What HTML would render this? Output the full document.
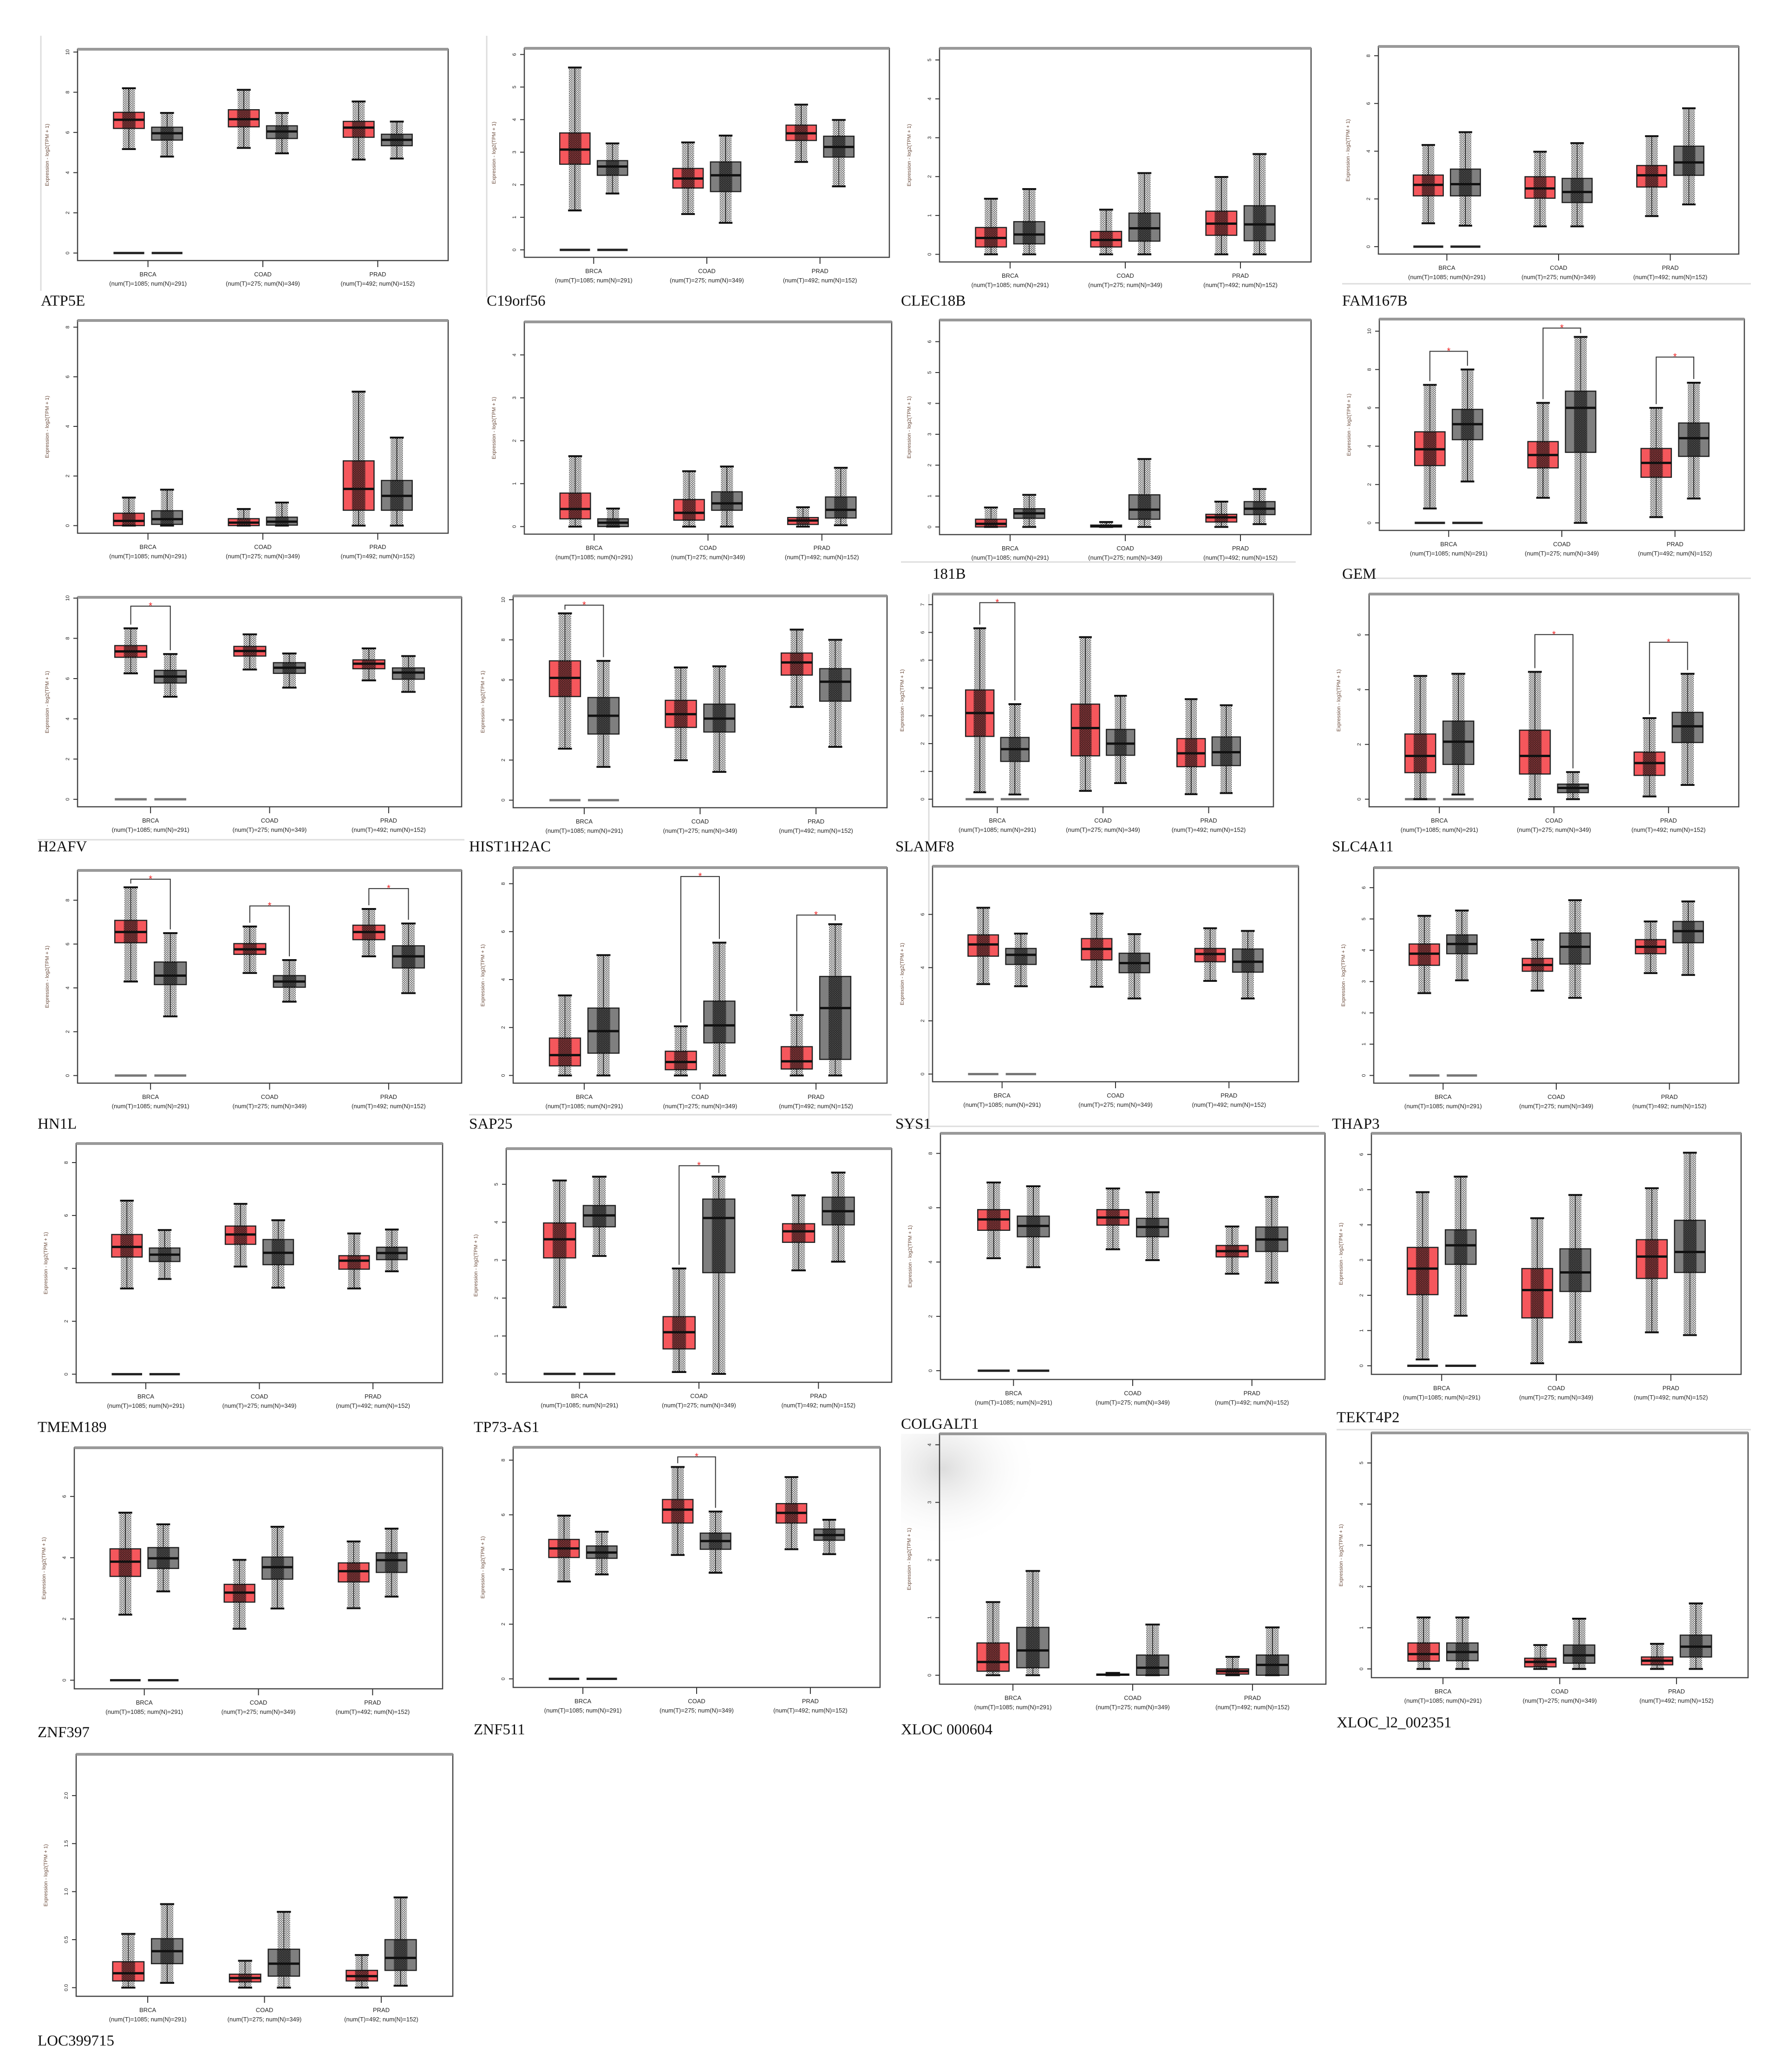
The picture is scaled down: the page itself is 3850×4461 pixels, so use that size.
<!DOCTYPE html>
<html><head><meta charset="utf-8">
<style>
html,body{margin:0;padding:0;background:#fff;}
svg{display:block;}
.gl{font-family:"Liberation Serif",serif;font-size:33px;fill:#111;}
.tk{font-family:"Liberation Sans",sans-serif;font-size:11px;fill:#222;}
.gx{font-family:"Liberation Sans",sans-serif;font-size:13px;fill:#222;}
.yt{font-family:"Liberation Sans",sans-serif;font-size:11px;fill:#6a4a3a;}
</style></head>
<body>
<svg id="fig" xmlns="http://www.w3.org/2000/svg" width="3850" height="4461" viewBox="0 0 3850 4461">
<defs>
<pattern id="dots" width="5" height="4" patternUnits="userSpaceOnUse"><circle cx="1.2" cy="1.2" r="1.2" fill="#111"/><circle cx="3.7" cy="3.2" r="1.2" fill="#111"/></pattern>
<radialGradient id="shade" cx="0.3" cy="0.3" r="0.7"><stop offset="0" stop-color="#ddd"/><stop offset="1" stop-color="#fff" stop-opacity="0"/></radialGradient>
</defs>
<rect x="0" y="0" width="3850" height="4461" fill="#fff"/>
</svg>
<script>
const genes=["ATP5E","C19orf56","CLEC18B","FAM167B","","","181B","GEM","H2AFV","HIST1H2AC","SLAMF8","SLC4A11","HN1L","SAP25","SYS1","THAP3","TMEM189","TP73-AS1","COLGALT1","TEKT4P2","ZNF397","ZNF511","XLOC 000604","XLOC_l2_002351","LOC399715"];
const groups=["BRCA","COAD","PRAD"];
const groupCounts=["(num(T)=1085; num(N)=291)","(num(T)=275; num(N)=349)","(num(T)=492; num(N)=152)"];
const yTopVals=[10.14,6.19,5.3,8.39,8.27,4.77,6.7,10.63,10.04,10.19,7.38,7.49,9.36,8.67,7.81,6.64,8.72,5.94,8.74,6.6,7.59,8.47,4.19,5.73,2.43];
const tickMax=[10,6,5,8,8,4,6,10,10,10,7,6,8,8,6,6,8,5,8,6,6,8,4,5,2];
const tickStep=[2,1,1,2,2,1,1,2,2,2,1,2,2,2,2,1,2,1,2,1,2,2,1,1,0.5];
// [q1, median, q3, whiskerLow, whiskerHigh]
const tumorStats=[
[[6.2,6.63,7.0,5.17,8.2],[6.28,6.66,7.13,5.23,8.12],[5.76,6.24,6.55,4.65,7.54]],
[[2.63,3.08,3.59,1.21,5.6],[1.9,2.19,2.5,1.1,3.3],[3.36,3.58,3.83,2.7,4.46]],
[[0.19,0.42,0.69,0,1.43],[0.19,0.37,0.59,0,1.15],[0.49,0.79,1.11,0,1.99]],
[[2.13,2.59,3.0,0.98,4.26],[2.03,2.44,2.93,0.85,3.98],[2.5,2.99,3.4,1.28,4.63]],
[[0,0.19,0.5,0,1.13],[0,0.12,0.28,0,0.67],[0.62,1.48,2.61,0,5.4]],
[[0.18,0.41,0.78,0,1.64],[0.15,0.32,0.63,0,1.29],[0.05,0.14,0.21,0,0.45]],
[[0,0.1,0.25,0,0.63],[0,0.02,0.06,0,0.16],[0.16,0.31,0.41,0,0.82]],
[[2.99,3.84,4.75,0.75,7.2],[2.87,3.54,4.24,1.31,6.26],[2.38,3.13,3.88,0.3,6.0]],
[[7.06,7.35,7.64,6.26,8.5],[7.12,7.37,7.6,6.45,8.2],[6.49,6.74,6.93,5.91,7.5]],
[[5.17,6.1,6.95,2.57,9.32],[3.63,4.29,4.98,1.99,6.62],[6.24,6.87,7.34,4.65,8.51]],
[[2.26,3.1,3.93,0.25,6.15],[1.56,2.56,3.42,0.3,5.83],[1.17,1.65,2.18,0.18,3.6]],
[[0.97,1.58,2.38,0,4.5],[0.92,1.58,2.52,0,4.65],[0.87,1.32,1.72,0.1,2.96]],
[[6.06,6.55,7.08,4.29,8.59],[5.53,5.76,6.02,4.68,6.8],[6.2,6.55,6.86,5.44,7.6]],
[[0.4,0.85,1.56,0,3.34],[0.24,0.56,1.01,0,2.05],[0.27,0.59,1.2,0,2.52]],
[[4.43,4.87,5.23,3.38,6.25],[4.29,4.7,5.09,3.28,6.03],[4.22,4.51,4.72,3.5,5.48]],
[[3.52,3.89,4.2,2.63,5.1],[3.33,3.53,3.74,2.71,4.34],[3.89,4.11,4.34,3.27,4.92]],
[[4.43,4.81,5.28,3.24,6.56],[4.91,5.28,5.6,4.07,6.44],[3.97,4.29,4.48,3.24,5.32]],
[[3.06,3.55,3.98,1.76,5.1],[0.66,1.1,1.51,0.05,2.78],[3.47,3.76,3.96,2.73,4.71]],
[[5.17,5.57,5.93,4.14,6.93],[5.36,5.64,5.93,4.47,6.71],[4.19,4.4,4.61,3.57,5.31]],
[[2.02,2.76,3.36,0.18,4.93],[1.36,2.15,2.76,0.07,4.19],[2.48,3.1,3.58,0.95,5.04]],
[[3.39,3.87,4.29,2.14,5.47],[2.55,2.86,3.13,1.68,3.93],[3.21,3.56,3.83,2.35,4.53]],
[[4.44,4.77,5.1,3.56,5.97],[5.7,6.19,6.56,4.53,7.75],[5.7,6.07,6.41,4.74,7.38]],
[[0.07,0.23,0.56,0,1.27],[0,0.01,0.02,0,0.04],[0.02,0.07,0.11,0,0.32]],
[[0.19,0.36,0.63,0,1.25],[0.05,0.17,0.26,0,0.58],[0.1,0.2,0.29,0,0.61]],
[[0.07,0.15,0.27,0,0.56],[0.06,0.1,0.14,0,0.28],[0.07,0.12,0.18,0,0.34]]
];
const normalStats=[
[[5.62,5.96,6.26,4.8,6.97],[5.7,6.05,6.33,4.96,6.97],[5.34,5.63,5.91,4.7,6.54]],
[[2.29,2.56,2.74,1.73,3.27],[1.79,2.29,2.7,0.83,3.51],[2.85,3.16,3.49,1.95,3.99]],
[[0.27,0.51,0.84,0,1.68],[0.34,0.67,1.06,0,2.09],[0.35,0.77,1.25,0,2.58]],
[[2.13,2.62,3.25,0.88,4.8],[1.85,2.29,2.86,0.85,4.34],[2.99,3.53,4.21,1.77,5.8]],
[[0.05,0.26,0.6,0,1.45],[0.02,0.16,0.34,0,0.93],[0.62,1.2,1.82,0,3.55]],
[[0,0.09,0.18,0,0.42],[0.38,0.54,0.81,0,1.4],[0.2,0.39,0.69,0.03,1.37]],
[[0.28,0.44,0.59,0,1.04],[0.25,0.56,1.04,0,2.2],[0.4,0.59,0.82,0.09,1.23]],
[[4.34,5.15,5.92,2.16,8.0],[3.68,6.0,6.87,0,9.7],[3.47,4.42,5.21,1.27,7.31]],
[[5.78,6.1,6.41,5.1,7.22],[6.26,6.54,6.79,5.55,7.25],[5.97,6.3,6.53,5.34,7.12]],
[[3.3,4.21,5.12,1.66,6.95],[3.4,4.07,4.79,1.41,6.68],[4.94,5.91,6.56,2.66,8.0]],
[[1.36,1.8,2.22,0.17,3.42],[1.58,2.0,2.51,0.58,3.72],[1.21,1.69,2.24,0.22,3.38]],
[[1.27,2.1,2.85,0.17,4.58],[0.24,0.41,0.55,0,0.99],[2.07,2.66,3.17,0.52,4.58]],
[[4.15,4.56,5.18,2.7,6.5],[4.03,4.29,4.56,3.37,5.27],[4.91,5.44,5.92,3.76,6.94]],
[[0.93,1.85,2.81,0,5.02],[1.36,2.09,3.1,0,5.54],[0.67,2.81,4.13,0,6.31]],
[[4.12,4.48,4.72,3.3,5.28],[3.81,4.17,4.54,2.84,5.26],[3.83,4.22,4.7,2.84,5.38]],
[[3.89,4.2,4.49,3.04,5.27],[3.56,4.11,4.55,2.48,5.6],[4.24,4.61,4.92,3.21,5.56]],
[[4.26,4.52,4.77,3.6,5.45],[4.14,4.59,5.09,3.27,5.82],[4.33,4.58,4.8,3.89,5.47]],
[[3.88,4.18,4.44,3.11,5.2],[2.67,4.11,4.61,0,5.2],[3.93,4.29,4.66,2.96,5.31]],
[[4.93,5.33,5.69,3.81,6.79],[4.93,5.29,5.61,4.07,6.57],[4.39,4.83,5.29,3.24,6.4]],
[[2.88,3.42,3.86,1.42,5.37],[2.11,2.65,3.32,0.67,4.85],[2.65,3.23,4.13,0.87,6.05]],
[[3.65,3.98,4.33,2.9,5.09],[3.3,3.69,4.02,2.34,5.01],[3.52,3.92,4.16,2.73,4.95]],
[[4.41,4.62,4.86,3.82,5.38],[4.74,5.04,5.33,3.88,6.12],[5.07,5.26,5.48,4.56,5.82]],
[[0.13,0.43,0.83,0,1.81],[0,0.13,0.35,0,0.88],[0,0.18,0.35,0,0.83]],
[[0.2,0.41,0.63,0,1.25],[0.14,0.33,0.58,0,1.22],[0.29,0.54,0.82,0,1.59]],
[[0.25,0.38,0.51,0.05,0.87],[0.12,0.25,0.4,0,0.79],[0.18,0.31,0.5,0.02,0.94]]
];
const sigHeights=[
[null,null,null],[null,null,null],[null,null,null],[null,null,null],[null,null,null],[null,null,null],[null,null,null],
[8.95,10.16,8.65],[9.6,null,null],[9.73,null,null],[7.07,null,null],[null,6.01,5.73],
[8.96,7.74,8.53],[null,8.3,6.69],[null,null,null],[null,null,null],[null,null,null],[null,5.49,null],[null,null,null],[null,null,null],
[null,null,null],[null,8.12,null],[null,null,null],[null,null,null],[null,null,null]
];
const zeroBars=[1,1,0,1,0,0,0,1,2,2,2,2,2,0,2,2,1,1,1,1,1,1,0,0,0];

const layout=[
[167,106,965,561],[1129,104,1915,554],[2023,104,2823,564],[2968,100,3744,547],
[167,690,965,1148],[1129,693,1920,1150],[2023,689,2823,1151],[2970,687,3756,1142],
[167,1286,994,1737],[1105,1283,1910,1739],[2008,1279,2742,1737],[2948,1279,3744,1737],
[167,1874,994,2332],[1105,1868,1910,2332],[2008,1865,2796,2329],[2958,1868,3744,2332],
[164,2462,953,2977],[1090,2473,1920,2976],[2025,2440,2853,2970],[2953,2440,3749,2959],
[160,3117,953,3636],[1105,3116,1895,3633],[2023,3087,2855,3626],[2953,3085,3764,3612],
[164,3777,975,4298]];
const labelPos=[[88,658],[1048,658],[1940,658],[2890,658],[0,0],[0,0],[2008,1246],[2890,1246],
[81,1833],[1010,1833],[1928,1833],[2868,1833],[81,2430],[1010,2430],[1928,2430],[2868,2430],
[81,3083],[1020,3083],[1940,3076],[2878,3062],[81,3740],[1020,3734],[1940,3734],[2878,3719],[81,4404]];

const NS="http://www.w3.org/2000/svg";
const svg=document.getElementById('fig');
function mk(tag,attrs,parent,txt){const e=document.createElementNS(NS,tag);for(const k in attrs)e.setAttribute(k,attrs[k]);if(txt!==undefined)e.textContent=txt;(parent||svg).appendChild(e);return e;}

const sep=[[88,77,88,626],[1048,77,1048,640],[2890,611,3770,611],[2890,1245,3770,1245],[1940,1210,2790,1210],[81,1808,1000,1808],[1010,2400,1920,2400],[2000,2425,2000,1279],[2878,3078,3770,3078],[1940,2425,2840,2425]];
sep.forEach(s=>{const l=mk('line',{x1:s[0],y1:s[1],x2:s[2],y2:s[3],stroke:'#ddd','stroke-width':3});

});
const sh=mk('rect',{x:1940,y:3087,width:300,height:250,fill:'url(#shade)'});



function drawBox(g,s,cx,bw,y,color,name){
  const grp=mk('g',{},g);
  
  
  const cap=bw*0.45;
  mk('line',{x1:cx,y1:y(s[4]),x2:cx,y2:y(s[3]),stroke:'#111','stroke-width':1.5},grp);
  mk('rect',{x:cx-bw/2,y:y(s[2]),width:bw,height:Math.max(2,y(s[0])-y(s[2])),fill:color,stroke:'#222','stroke-width':2.5},grp);
  mk('rect',{x:cx-bw*0.2,y:y(s[4]),width:bw*0.4,height:Math.max(2,y(s[3])-y(s[4])),fill:'url(#dots)',opacity:0.8},grp);
  mk('rect',{x:cx-bw*0.22,y:y(s[2]),width:bw*0.44,height:Math.max(2,y(s[0])-y(s[2])),fill:'#111',opacity:0.45},grp);
  mk('line',{x1:cx-cap/2,y1:y(s[4]),x2:cx+cap/2,y2:y(s[4]),stroke:'#111','stroke-width':4},grp);
  mk('line',{x1:cx-cap/2,y1:y(s[3]),x2:cx+cap/2,y2:y(s[3]),stroke:'#111','stroke-width':4},grp);
  mk('line',{x1:cx-bw/2,y1:y(s[1]),x2:cx+bw/2,y2:y(s[1]),stroke:'#111','stroke-width':5},grp);
}

for(let i=0;i<genes.length;i++){
  const [L,T,R,B]=layout[i];const W=R-L,H=B-T;
  const yTop=yTopVals[i], yBot=-yTop*0.037;
  const y=v=>B-(v-yBot)/(yTop-yBot)*H;
  const g=mk('g',{});
  
  
  const fr=mk('rect',{x:L,y:T,width:W,height:H,fill:'none',stroke:'#444','stroke-width':2.5},g);
  
  
  mk('line',{x1:L,y1:T,x2:R,y2:T,stroke:'#999','stroke-width':6},g);
  const ya=mk('g',{},g);
  
  
  for(let v=0;v<=tickMax[i]+1e-9;v+=tickStep[i]){
    const yy=y(v);
    mk('line',{x1:L-9,y1:yy,x2:L,y2:yy,stroke:'#333','stroke-width':2},ya);
    const lab=(tickStep[i]<1)?v.toFixed(1):String(Math.round(v));
    const t=mk('text',{x:L-18,y:yy,class:'tk','text-anchor':'middle',transform:`rotate(-90 ${L-18} ${yy})`},ya,lab);
    
    
  }
  const yt=mk('text',{x:L-62,y:(T+B)/2,class:'yt','text-anchor':'middle',transform:`rotate(-90 ${L-62} ${(T+B)/2})`},g,'Expression - log2(TPM + 1)');
  
  
  const fr3=[0.19,0.5,0.81];
  const bw=0.083*W, off=0.0515*W;
  for(let k=0;k<3;k++){
    const cx=L+W*fr3[k];
    mk('line',{x1:cx,y1:B,x2:cx,y2:B+14,stroke:'#333','stroke-width':2},g);
    const t1=mk('text',{x:cx,y:B+34,class:'gx','text-anchor':'middle'},g,groups[k]);
    
    
    const t2=mk('text',{x:cx,y:B+54,class:'gx','text-anchor':'middle'},g,groupCounts[k]);
    
    
    if(zeroBars[i]&&k===0){
      const zc=zeroBars[i]===2?'#777':'#222';
      mk('line',{x1:cx-off-bw/2,y1:y(0),x2:cx-off+bw/2,y2:y(0),stroke:zc,'stroke-width':5},g);
      mk('line',{x1:cx+off-bw/2,y1:y(0),x2:cx+off+bw/2,y2:y(0),stroke:zc,'stroke-width':5},g);
    }
    drawBox(g,tumorStats[i][k],cx-off,bw,y,'#f5575c','box-tumor-'+groups[k].toLowerCase());
    drawBox(g,normalStats[i][k],cx+off,bw,y,'#7f7f7f','box-normal-'+groups[k].toLowerCase());
    const sh=sigHeights[i][k];
    if(sh!==null){
      const b=mk('g',{},g);
      
      
      const x1=cx-off,x2=cx+off,ys=y(sh);
      mk('polyline',{points:`${x1},${y(tumorStats[i][k][4])-8} ${x1},${ys} ${x2},${ys} ${x2},${y(normalStats[i][k][4])-8}`,fill:'none',stroke:'#333','stroke-width':2},b);
      mk('text',{x:cx,y:ys+6,'text-anchor':'middle',fill:'#e22','font-size':'20','font-family':'Liberation Sans, sans-serif'},b,'*');
    }
  }
  if(genes[i]){
    const gl=mk('text',{x:labelPos[i][0],y:labelPos[i][1],class:'gl'},svg,genes[i]);
    
    
  }
}
</script>
</body></html>
